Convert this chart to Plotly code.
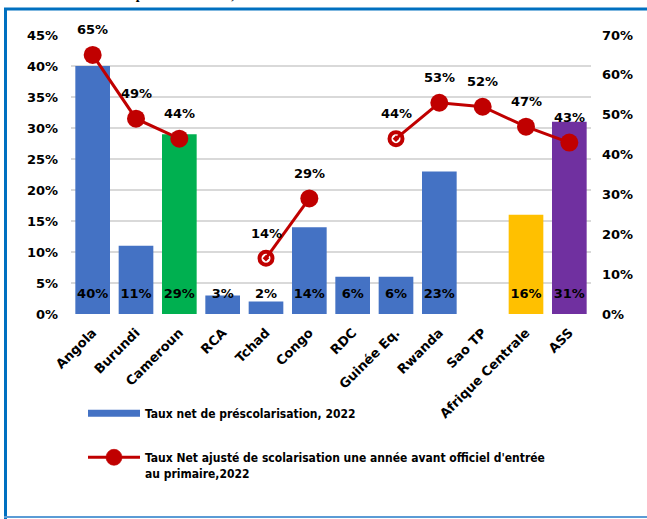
import plotly.graph_objects as go

categories = ["Angola", "Burundi", "Cameroun", "RCA", "Tchad", "Congo", "RDC",
              "Guinée Eq.", "Rwanda", "Sao TP", "Afrique Centrale", "ASS"]
bar_values = [40, 11, 29, 3, 2, 14, 6, 6, 23, None, 16, 31]   # Taux net de préscolarisation (%)
line_values = [65, 49, 44, None, 14, 29, None, 44, 53, 52, 47, 43]  # Taux net ajusté (%)
bar_colors = ["#4472C4", "#4472C4", "#00B050", "#4472C4", "#4472C4", "#4472C4",
              "#4472C4", "#4472C4", "#4472C4", "#4472C4", "#FFC000", "#7030A0"]
bar_name = "Taux net de préscolarisation, 2022"
line_name = "Taux Net ajusté de scolarisation une année avant officiel d'entrée<br>au primaire,2022"
left_ticks = [0, 5, 10, 15, 20, 25, 30, 35, 40, 45]
right_ticks = [0, 10, 20, 30, 40, 50, 60, 70]

W, H = 647, 519
ML, MR, MT, MB = 71, 56, 35, 205
PW, PH = W - ML - MR, H - MT - MB


def px_x(px):
    return (px - ML) / PW


def px_y(py):
    return (H - MB - py) / PH


LBL_FONT = dict(family="DejaVu Sans", size=13, color="black", weight="bold")

fig = go.Figure()

fig.add_trace(go.Bar(
    x=categories, y=[v / 100 if v is not None else None for v in bar_values],
    marker=dict(color=bar_colors, line=dict(width=0)),
    showlegend=False, yaxis="y", hoverinfo="skip",
))

# bar labels at base
lab_x = [c for c, v in zip(categories, bar_values) if v is not None]
lab_t = [f"{v}%" for v in bar_values if v is not None]
fig.add_trace(go.Scatter(
    x=lab_x, y=[0.031] * len(lab_x), mode="text", text=lab_t,
    textfont=LBL_FONT, showlegend=False, yaxis="y", hoverinfo="skip",
))

# legend proxy for bars
fig.add_trace(go.Scatter(
    x=[None], y=[None], mode="lines", name=bar_name,
    line=dict(color="#4472C4", width=7), legendgroup="a", yaxis="y",
))

symbols, sizes, lws = [], [], []
for i, v in enumerate(line_values):
    prev_none = i > 0 and line_values[i - 1] is None
    if prev_none and v is not None:
        symbols.append("circle-open-dot"); sizes.append(13); lws.append(4)
    else:
        symbols.append("circle"); sizes.append(18); lws.append(0)

fig.add_trace(go.Scatter(
    x=categories, y=[v / 100 if v is not None else None for v in line_values],
    mode="lines+markers", name=line_name, yaxis="y2",
    line=dict(color="#C00000", width=3),
    marker=dict(color="#C00000", size=sizes, symbol=symbols, opacity=1,
                line=dict(color="#C00000", width=lws)),
    connectgaps=False, legendgroup="b", hoverinfo="skip",
))

annotations = []
for c, v in zip(categories, line_values):
    if v is None:
        continue
    annotations.append(dict(
        x=c, y=v / 100, xref="x", yref="y2", text=f"{v}%", showarrow=False,
        yshift=25, font=LBL_FONT, xanchor="center", yanchor="middle",
    ))

# cut-off title at the very top
annotations.append(dict(
    x=px_x(268), y=px_y(4), xref="paper", yref="paper", xanchor="right", yanchor="bottom",
    text="<b>Taux brut de scolarisation et taux net de préscolarisation, 2022</b>",
    showarrow=False, font=dict(family="Liberation Serif", size=14, color="black"),
))

shapes = [
    dict(type="line", xref="paper", yref="paper", x0=px_x(5.5), x1=px_x(5.5),
         y0=px_y(8), y1=px_y(H + 2), line=dict(color="#0070C0", width=3)),
    dict(type="line", xref="paper", yref="paper", x0=px_x(4), x1=px_x(W + 2),
         y0=px_y(9), y1=px_y(9), line=dict(color="#0070C0", width=3)),
    dict(type="line", xref="paper", yref="paper", x0=px_x(4), x1=px_x(W + 2),
         y0=px_y(517), y1=px_y(517), line=dict(color="#5B9BD5", width=2)),
]

fig.update_layout(
    width=W, height=H,
    margin=dict(l=ML, r=MR, t=MT, b=MB),
    paper_bgcolor="white", plot_bgcolor="white",
    bargap=0.2,
    font=dict(family="DejaVu Sans", size=13, color="black"),
    xaxis=dict(
        type="category", tickangle=-45, showgrid=False, showline=False,
        range=[-0.5, len(categories) - 0.5],
        tickfont=dict(family="DejaVu Sans", size=13, color="black", weight="bold"),
        ticks="outside", ticklen=5, tickcolor="rgba(0,0,0,0)", zeroline=False,
    ),
    yaxis=dict(
        range=[0, 0.45], tickvals=[t / 100 for t in left_ticks],
        ticktext=[f"{t}%" for t in left_ticks],
        showgrid=True, gridcolor="#D9D9D9", gridwidth=1.5, zeroline=False,
        showline=False, ticks="", ticklabelstandoff=12,
        tickfont=dict(family="DejaVu Sans", size=13, color="black", weight="bold"),
    ),
    yaxis2=dict(
        range=[0, 0.70], tickvals=[t / 100 for t in right_ticks],
        ticktext=[f"{t}%" for t in right_ticks],
        overlaying="y", side="right", showgrid=False, zeroline=False,
        showline=False, ticks="", ticklabelstandoff=10,
        tickfont=dict(family="DejaVu Sans", size=13, color="black", weight="bold"),
    ),
    legend=dict(
        x=px_x(83), y=px_y(399), xanchor="left", yanchor="top",
        orientation="v", itemwidth=52, tracegroupgap=25, valign="top",
        font=dict(family="DejaVu Sans Condensed", size=12, color="black", weight="bold"),
        bgcolor="rgba(0,0,0,0)", itemclick=False,
    ),
    annotations=annotations,
    shapes=shapes,
)

fig.write_html("out.html", config={"displayModeBar": False},
               post_script="document.body.style.margin='0';")
